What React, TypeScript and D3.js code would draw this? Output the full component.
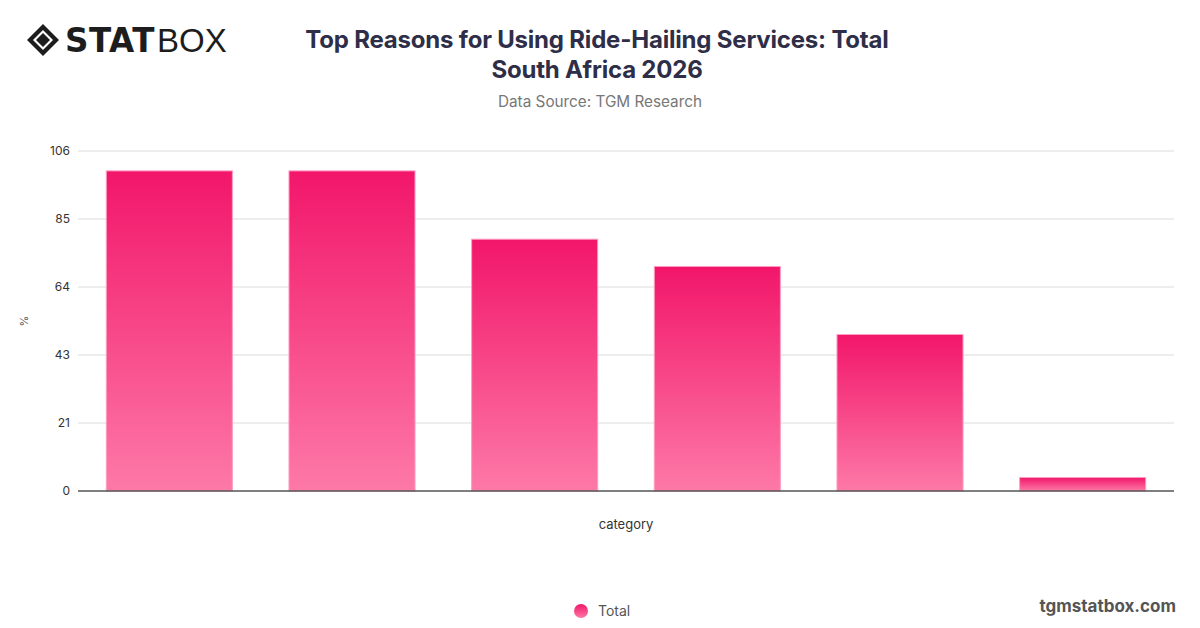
import React from "react";
import * as d3 from "d3";

// chart data
const categories = [
  "Convenience",
  "Ease of booking",
  "Safety",
  "Price",
  "No parking needed",
  "Other",
];
const totalValues = [99.8, 99.8, 78.5, 70, 48.8, 4.2];
const yTickValues = [0, 21.2, 42.4, 63.6, 84.8, 106];
const yTickLabels = ["0", "21", "43", "64", "85", "106"];
const seriesName = "Total";

const W = 1200;
const H = 628;
const margin = { top: 151, right: 26, bottom: 137, left: 78 };

const App: React.FC = () => {
  const innerW = W - margin.left - margin.right;
  const innerH = H - margin.top - margin.bottom;

  const x = d3
    .scaleBand<string>()
    .domain(categories)
    .range([0, innerW])
    .paddingInner(0.31)
    .paddingOuter(0.155);

  const y = d3.scaleLinear().domain([0, 106]).range([innerH, 0]);

  const font = "Inter, 'Noto Sans', sans-serif";

  return (
    <svg
      width={W}
      height={H}
      style={{ position: "absolute", left: 0, top: 0, background: "#fff" }}
    >
      <defs>
        <linearGradient id="barGrad" x1="0" y1="0" x2="0" y2="1">
          <stop offset="0%" stopColor="#f2166a" />
          <stop offset="100%" stopColor="#fd79a7" />
        </linearGradient>
      </defs>

      {/* logo */}
      <g transform="translate(43,40)">
        <path d="M0,-16 L16,0 L0,16 L-16,0 Z" fill="#1d1d1d" />
        <path d="M0,-10 L10,0 L0,10 L-10,0 Z" fill="#fff" />
        <path d="M0,-7 L7,0 L0,7 L-7,0 Z" fill="#1d1d1d" />
      </g>
      <text
        x={65}
        y={52}
        fontFamily="'DejaVu Sans', sans-serif"
        fontWeight={900}
        fontSize={34}
        fill="#1d1d1d"
        letterSpacing={0.5}
        textLength={90}
        lengthAdjust="spacingAndGlyphs"
      >
        STAT
      </text>
      <text
        x={157}
        y={52}
        fontFamily="'Liberation Sans', sans-serif"
        fontWeight={300}
        fontSize={33}
        fill="#1d1d1d"
      >
        BOX
      </text>

      {/* title */}
      <text
        x={597}
        y={48}
        textAnchor="middle"
        fontFamily={font}
        fontWeight={700}
        fontSize={24}
        fill="#2e2e48"
        letterSpacing={-0.2}
      >
        Top Reasons for Using Ride-Hailing Services: Total
      </text>
      <text
        x={597}
        y={78}
        textAnchor="middle"
        fontFamily={font}
        fontWeight={700}
        fontSize={24}
        fill="#2e2e48"
        letterSpacing={-0.2}
      >
        South Africa 2026
      </text>
      <text
        x={600}
        y={107}
        textAnchor="middle"
        fontFamily={font}
        fontSize={15.3}
        fill="#777"
      >
        Data Source: TGM Research
      </text>

      <g transform={`translate(${margin.left},${margin.top})`}>
        {/* grid */}
        {yTickValues.map((t, i) => (
          <g key={t} transform={`translate(0,${y(t)})`}>
            {t > 0 && <line x1={0} x2={innerW} stroke="#dcdcdc" />}
            <text
              x={-8}
              dy="0.32em"
              textAnchor="end"
              fontFamily={font}
              fontSize={12}
              fill="#333"
            >
              {yTickLabels[i]}
            </text>
          </g>
        ))}

        {/* bars */}
        {categories.map((c, i) => (
          <rect
            key={c}
            x={x(c)}
            y={y(totalValues[i])}
            width={x.bandwidth()}
            height={innerH - y(totalValues[i])}
            fill="url(#barGrad)"
            stroke="#ff9cc0"
            strokeWidth={1}
          />
        ))}

        <line x1={0} x2={innerW} y1={innerH} y2={innerH} stroke="#555" strokeWidth={1.5} />

        <text
          x={innerW / 2}
          y={innerH + 38}
          textAnchor="middle"
          fontFamily={font}
          fontSize={13}
          fill="#333"
        >
          category
        </text>
        <text
          transform={`translate(-50,${innerH / 2}) rotate(-90)`}
          textAnchor="middle"
          fontFamily={font}
          fontSize={11}
          fill="#555"
        >
          %
        </text>
      </g>

      {/* legend */}
      <circle cx={581} cy={611} r={7} fill="url(#barGrad)" />
      <text x={598} y={616} fontFamily={font} fontSize={14} fill="#555">
        {seriesName}
      </text>

      <text
        x={1176}
        y={612}
        textAnchor="end"
        fontFamily={font}
        fontWeight={700}
        fontSize={17}
        fill="#555"
      >
        tgmstatbox.com
      </text>
    </svg>
  );
};

export default App;
